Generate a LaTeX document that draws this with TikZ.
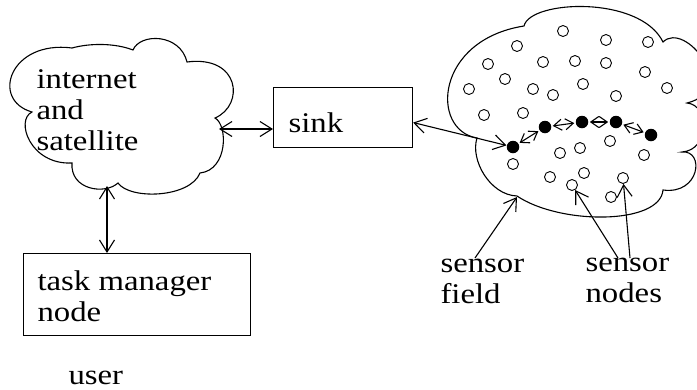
\documentclass[tikz,border=0pt]{standalone}
\usepackage{fontspec}
\setmainfont{Liberation Serif}[FakeStretch=1.15]
\usetikzlibrary{arrows.meta}
\begin{document}
\begin{tikzpicture}[x=1pt,y=-1pt,line width=1.1pt,
  >={Straight Barb[length=12pt,width=15pt]},
  box/.style={draw,inner sep=0pt,anchor=north west},
  lbl/.style={font=\fontsize{28.5}{31}\selectfont,inner sep=0pt,anchor=base west,align=left},
  mote/.style={circle,draw,inner sep=0pt,minimum size=11pt,line width=0.9pt},
  hop/.style={circle,fill,inner sep=0pt,minimum size=12.5pt},
  link/.style={{Straight Barb[length=8pt,width=11pt]}-{Straight Barb[length=8pt,width=11pt]},
    shorten <=1pt,shorten >=1pt}]
\useasboundingbox (0,0) rectangle (697,389);
\clip (0,0) rectangle (697,389);

% internet and satellite cloud
\draw (32,112) .. controls (-10,100) and (10,40) .. (72,48)
  .. controls (90,43) and (115,43) .. (133,50)
  .. controls (140,33) and (180,33) .. (187,62)
  .. controls (240,55) and (245,105) .. (215,118)
  .. controls (228,125) and (228,170) .. (200,173)
  .. controls (190,198) and (130,200) .. (118,183)
  .. controls (105,195) and (70,190) .. (72,163)
  .. controls (30,165) and (15,120) .. cycle;

% sensor field cloud
\draw (477,138) .. controls (430,130) and (435,40) .. (524,26)
  .. controls (530,0) and (640,-5) .. (663,42)
  .. controls (685,20) and (740,90) .. (687,103)
  .. controls (710,105) and (710,150) .. (682,152)
  .. controls (705,150) and (700,195) .. (663,190)
  .. controls (660,225) and (560,225) .. (517,196)
  .. controls (490,195) and (470,160) .. cycle;

% boxes
\node[box,minimum width=139pt,minimum height=60pt] (sink) at (273,87) {};
\node[box,minimum width=227pt,minimum height=82pt] (tm) at (23,253) {};

% labels (anchored at the baseline of their last line)
\node[lbl] (netTxt) at (36,150) {internet\\and\\satellite};
\node[lbl] (sinkTxt) at (288,132) {sink};
\node[lbl] (tmTxt) at (37,321) {task manager\\node};
\node[lbl] (userTxt) at (68,384) {user};
\node[lbl] (fieldTxt) at (440,303) {sensor\\field};
\node[lbl] (nodesTxt) at (585,302) {sensor\\nodes};

% idle sensor nodes
\foreach \x/\y [count=\i] in {563/31,517/46,606/40,648/42,488/64,543/62,575/61,606/63,
  645/72,505/79,469/89,533/89,553/95,583/84,616/96,667/88,484/115,523/113,610/141,
  580/148,560/153,644/155,513/164,550/177,584/173,572/185,623/178,611/197}
  \node[mote] (s\i) at (\x,\y) {};

% active route
\node[hop] (h1) at (513,147) {};
\node[hop] (h2) at (545,127) {};
\node[hop] (h3) at (582,122) {};
\node[hop] (h4) at (616,122) {};
\node[hop] (h5) at (651,135) {};
\draw[link] (h1) -- (h2);
\draw[link] (h2) -- (h3);
\draw[link] (h3) -- (h4);
\draw[link] (h4) -- (h5);

% connections
\coordinate (netR) at (219,129);
\coordinate (netB) at (107,186);
\draw[<->] (netR) -- (netR -| sink.west);
\draw[<->] (netB) -- (netB |- tm.north);
\draw[<->] ([yshift=-5pt]sink.east) -- (h1);

% label pointers
\coordinate (fieldTail) at (475,258);
\coordinate (fieldEdge) at (517,197);
\coordinate (nodesTailA) at (618,258);
\coordinate (nodesTailB) at (630,258);
\draw[->] (fieldTail) -- (fieldEdge);
\draw[->] (nodesTailA) -- (s26);
\draw[->] (nodesTailB) -- (s27);
\end{tikzpicture}
\end{document}
